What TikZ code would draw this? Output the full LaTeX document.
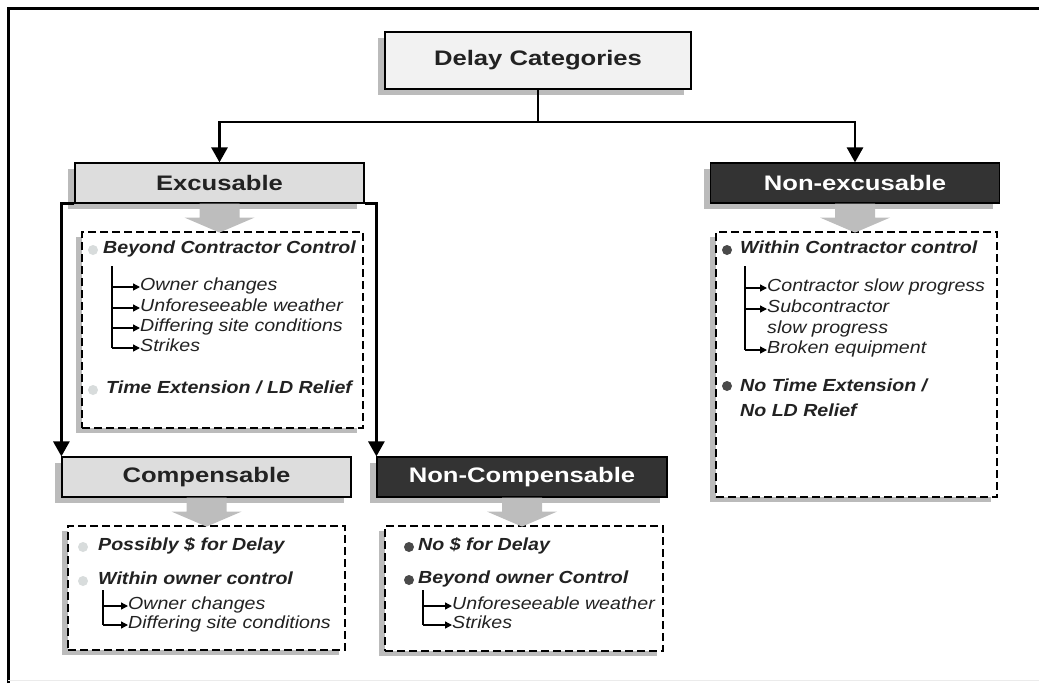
\documentclass[tikz,border=0pt]{standalone}
\usepackage{fontspec}
\setmainfont{Liberation Sans}[FakeStretch=1.22]
\newfontfamily\panelfont{Liberation Sans}[FakeStretch=1.12]
\usetikzlibrary{arrows.meta,shadows}
\definecolor{hdrlight}{HTML}{DDDDDD}
\definecolor{hdrtop}{HTML}{F2F2F2}
\definecolor{hdrdark}{HTML}{333333}
\definecolor{shade}{HTML}{BBBBBB}
\definecolor{blockgray}{HTML}{BDBDBD}
\definecolor{dotlight}{HTML}{D8DCDC}
\definecolor{dotdark}{HTML}{4A4A4A}
\definecolor{txt}{HTML}{222222}
\tikzset{
 hdr/.style={draw=black, line width=1.2pt, minimum width=289pt, minimum height=40pt, inner sep=0pt,
   font=\fontsize{21}{25}\selectfont\bfseries,
   drop shadow={shadow xshift=-7pt, shadow yshift=-6pt, fill=shade, opacity=1}},
 lighthdr/.style={hdr, fill=hdrlight, text=txt},
 darkhdr/.style={hdr, fill=hdrdark, text=white},
 panel/.style={draw=black, dash pattern=on 8pt off 4pt, line width=1.2pt, fill=white, inner sep=0pt,
   drop shadow={shadow xshift=-6pt, shadow yshift=-5pt, fill=shade, opacity=1}},
 link/.style={line width=2.8pt, -{Triangle[length=15pt,width=16pt]}},
 stem/.style={line width=2.8pt},
 lead/.style={font=\panelfont\fontsize{17.5}{21}\selectfont\bfseries\itshape, anchor=west, text=txt, inner sep=0pt, text height=1.5ex, text depth=.25ex},
 item/.style={font=\panelfont\fontsize{17.5}{21}\selectfont\itshape, anchor=west, text=txt, inner sep=0pt, text height=1.5ex, text depth=.25ex},
 tree/.style={line width=1.4pt},
 treearrow/.style={line width=1.4pt, -{Triangle[length=7pt,width=7pt]}},
 dotL/.style={circle, fill=dotlight, minimum size=10pt, inner sep=0pt},
 dotD/.style={circle, fill=dotdark, minimum size=10pt, inner sep=0pt},
 downblock/.pic={\fill[blockgray] (-20,0) -- (20,0) -- (20,14) -- (35,14) -- (0,29) -- (-35,14) -- (-20,14) -- cycle;}
}
\begin{document}
\begin{tikzpicture}[x=1pt,y=-1pt]
\useasboundingbox (0,0) rectangle (1039,683);
% frame
\draw[line width=3pt] (8,683) -- (8,8) -- (1039,8);
\draw[line width=1pt, black!8] (8,680) -- (1039,680);

% headers
\node[hdr, fill=hdrtop, text=txt, minimum width=306pt, minimum height=57pt] (dc) at (538,60.5) {Delay Categories};
\node[lighthdr] (exc) at (219.5,183) {Excusable};
\node[darkhdr] (nexc) at (855,183) {Non-excusable};
\node[lighthdr] (comp) at (206.5,477) {Compensable};
\node[darkhdr, minimum width=290pt] (ncomp) at (522,477) {Non-Compensable};

% panels
\node[panel, minimum width=281pt, minimum height=196pt] (pexc) at (222.5,330) {};
\node[panel, minimum width=281pt, minimum height=265pt] (pnexc) at (856.5,364.5) {};
\node[panel, minimum width=277pt, minimum height=124pt] (pcomp) at (206.5,588) {};
\node[panel, minimum width=278pt, minimum height=125pt] (pncomp) at (524,588.5) {};

% block arrows
\pic at (exc.south) {downblock};
\pic at (nexc.south) {downblock};
\pic at (comp.south) {downblock};
\pic at (ncomp.south) {downblock};

% connectors
\coordinate (j) at (538,122);
\draw[stem] (dc.south) -- (j);
\draw[link] (j) -| (exc.north);
\draw[link] (j) -| (nexc.north);
\draw[link] (exc.south west) -| (comp.north west);
\draw[link] (exc.south east) -| (ncomp.north west);

% Excusable content
\node[dotL] (ed1) at (93,250) {};
\node[lead] (e1) at (103,250) {Beyond Contractor Control};
\coordinate (et) at (112,266);
\node[item] (e2) at (140,287) {Owner changes};
\node[item] (e3) at (140,308) {Unforeseeable weather};
\node[item] (e4) at (140,328) {Differing site conditions};
\node[item] (e5) at (140,348) {Strikes};
\draw[tree] (et) -- (112,348);
\foreach \n in {e2,e3,e4,e5} \draw[treearrow] (112,0 |- \n.west) -- (\n.west);
\node[dotL] (ed2) at (93,390) {};
\node[lead] (e6) at (106,390) {Time Extension / LD Relief};

% Non-excusable content
\node[dotD] (nd1) at (727,250) {};
\node[lead] (n1) at (740,250) {Within Contractor control};
\coordinate (nt) at (745,266);
\node[item] (n2) at (767,288) {Contractor slow progress};
\node[item] (n3) at (767,309) {Subcontractor};
\node[item] (n4) at (767,330) {slow progress};
\node[item] (n5) at (767,350) {Broken equipment};
\draw[tree] (nt) -- (745,350);
\foreach \n in {n2,n3,n5} \draw[treearrow] (745,0 |- \n.west) -- (\n.west);
\node[dotD] (nd2) at (727,386) {};
\node[lead] (n6) at (740,388) {No Time Extension /};
\node[lead] (n7) at (740,413) {No LD Relief};

% Compensable content
\node[dotL] (cd1) at (83,547) {};
\node[lead] (c1) at (98,547) {Possibly \$ for Delay};
\node[dotL] (cd2) at (83,581) {};
\node[lead] (c2) at (98,581) {Within owner control};
\coordinate (ct) at (103,590);
\node[item] (c3) at (128,606) {Owner changes};
\node[item] (c4) at (128,625) {Differing site conditions};
\draw[tree] (ct) -- (103,625);
\foreach \n in {c3,c4} \draw[treearrow] (103,0 |- \n.west) -- (\n.west);

% Non-Compensable content
\node[dotD] (kd1) at (409,547) {};
\node[lead] (k1) at (418,547) {No \$ for Delay};
\node[dotD] (kd2) at (409,580) {};
\node[lead] (k2) at (418,580) {Beyond owner Control};
\coordinate (kt) at (423,590);
\node[item] (k3) at (452,606) {Unforeseeable weather};
\node[item] (k4) at (452,625) {Strikes};
\draw[tree] (kt) -- (423,625);
\foreach \n in {k3,k4} \draw[treearrow] (423,0 |- \n.west) -- (\n.west);
\end{tikzpicture}
\end{document}
